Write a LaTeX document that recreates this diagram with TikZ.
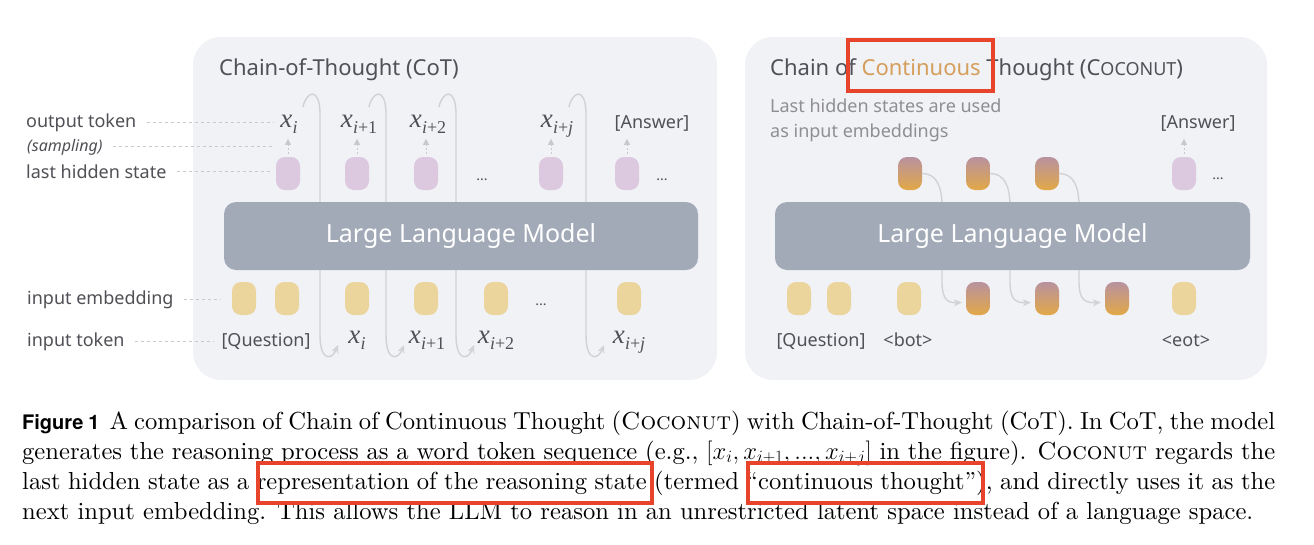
\RequirePackage{fix-cm}
\documentclass[tikz,border=0pt]{standalone}
\usepackage{fontspec}
\newfontfamily\dsans{Noto Sans}
\newfontfamily\capsans{TeX Gyre Heros}
\newfontfamily\tokserif{Liberation Serif}
\newfontfamily\cmten{lmroman10-regular.otf}[ItalicFont=lmroman10-italic.otf, BoldFont=lmroman10-bold.otf, SmallCapsFont=lmromancaps10-regular.otf]
\newcommand\tk[1]{{\itshape x}\kern0.3pt\raisebox{-6pt}{\fontsize{18}{19}\selectfont #1}}
\usetikzlibrary{arrows.meta}
\definecolor{panelbg}{HTML}{F1F2F6}
\definecolor{llmcol}{HTML}{A2AAB8}
\definecolor{hidcol}{HTML}{DCC8DF}
\definecolor{embcol}{HTML}{EBD59D}
\definecolor{gtop}{HTML}{B8929F}
\definecolor{gbot}{HTML}{E2A847}
\definecolor{conncol}{HTML}{D2D2D5}
\definecolor{leadcol}{HTML}{C9C9CC}
\definecolor{lblcol}{HTML}{505056}
\definecolor{subcol}{HTML}{8F8F93}
\definecolor{orng}{HTML}{D59E5B}
\definecolor{redbox}{HTML}{E8432B}
\begin{document}
\begin{tikzpicture}[x=1pt,y=-1pt,
  panelbox/.style={fill=panelbg, rounded corners=28pt},
  pill/.style={rounded corners=9pt, minimum width=24pt, minimum height=33pt, inner sep=0pt, draw=none},
  hidpill/.style={pill, fill=hidcol},
  embpill/.style={pill, fill=embcol},
  contpill/.style={pill, top color=gtop, bottom color=gbot},
  lbltext/.style={font=\dsans\fontsize{18}{20}\selectfont, text=lblcol, inner sep=0pt},
  smalllbl/.style={font=\dsans\itshape\fontsize{16}{18}\selectfont, text=lblcol, inner sep=0pt},
  titletext/.style={font=\dsans\fontsize{22}{24}\selectfont, text=lblcol, inner sep=0pt, anchor=base west},
  subtext/.style={font=\dsans\fontsize{18}{20}\selectfont, text=subcol, inner sep=0pt, anchor=base west},
  mtok/.style={font=\tokserif\fontsize{27}{28}\selectfont, text=lblcol, inner sep=0pt, anchor=base},
  tok/.style={lbltext, anchor=base},
  dotsn/.style={font=\dsans\fontsize{14}{16}\selectfont, text=lblcol, inner sep=0pt, anchor=base},
  leadline/.style={draw=leadcol, line width=1pt, dash pattern=on 3pt off 3pt},
  uparr/.style={draw=leadcol, line width=1pt, dash pattern=on 2pt off 2pt, -{Triangle[length=6pt,width=6pt]}},
  cotloop/.style={draw=conncol, line width=1.4pt, -{Stealth[length=8pt,width=7pt]}},
  llmbox/.style={fill=llmcol, rounded corners=12pt, text=white, font=\dsans\fontsize{25}{28}\selectfont, minimum height=68pt, inner sep=0pt},
  hlbox/.style={draw=redbox, line width=4pt},
  capline/.style={font=\cmten\fontsize{24.6}{30}\selectfont, text=black, inner sep=0pt, anchor=base west}
]
\useasboundingbox[fill=white] (0,0) rectangle (1314,544);

% ---------- panels ----------
\path[panelbox] (193,37) rectangle (717,380);
\path[panelbox] (745,37) rectangle (1267,380);

% ---------- left panel: CoT ----------
\node[titletext] (lt) at (219,75) {Chain-of-Thought (CoT)};

% hidden states
\node[hidpill] (hp1) at (288,173.5) {};
\node[hidpill] (hp2) at (357,173.5) {};
\node[hidpill] (hp3) at (426,173.5) {};
\node[hidpill] (hp4) at (551,173.5) {};
\node[hidpill] (hp5) at (627,173.5) {};
\node[dotsn] (hd1) at (482,180) {...};
\node[dotsn] (hd2) at (662,180) {...};

% output tokens
\node[mtok] (ox1) at (289,127) {\tk{\textit{i}}};
\node[mtok] (ox2) at (359,127) {\tk{\textit{i}+1}};
\node[mtok] (ox3) at (428,127) {\tk{\textit{i}+2}};
\node[mtok] (ox4) at (557,127) {\tk{\textit{i}+\textit{j}}};
\node[tok] (oans) at (652,128) {[Answer]};

\foreach \n in {1,...,5}{
  \draw[uparr] ([yshift=3pt]hp\n.north) -- ++(0,-15);
}

% input embeddings
\node[embpill] (ie1) at (244,298.5) {};
\node[embpill] (ie2) at (287,298.5) {};
\node[embpill] (ie3) at (357,298.5) {};
\node[embpill] (ie4) at (426,298.5) {};
\node[embpill] (ie5) at (496,298.5) {};
\node[embpill] (ie6) at (629,298.5) {};
\node[dotsn] (id1) at (541,305) {...};

% input tokens
\node[tok] (qL) at (266,346) {[Question]};
\node[mtok] (ix1) at (357,343) {\tk{\textit{i}}};
\node[mtok] (ix2) at (427,343) {\tk{\textit{i}+1}};
\node[mtok] (ix3) at (496,343) {\tk{\textit{i}+2}};
\node[mtok] (ix4) at (629,343) {\tk{\textit{i}+\textit{j}}};

% row labels
\node[lbltext, anchor=base west] (lo) at (26,127) {output token};
\node[smalllbl, anchor=base west] (ls) at (27,151) {(sampling)};
\node[lbltext, anchor=base west] (ll) at (26,178) {last hidden state};
\node[lbltext, anchor=base west] (le) at (27,304) {input embedding};
\node[lbltext, anchor=base west] (li) at (27,346) {input token};

\draw[leadline] ([xshift=10pt]lo.east) -- ([xshift=-7pt]lo.east -| ox1.west);
\draw[leadline] ([xshift=10pt]ls.east) -- ([xshift=-7pt]ls.east -| ox1.west);
\draw[leadline] ([xshift=10pt]ll.east) -- ([xshift=-6pt]ll.east -| hp1.west);
\draw[leadline] ([xshift=10pt]le.east) -- ([xshift=-12pt]le.east -| ie1.west);
\draw[leadline] ([xshift=10pt]li.east) -- ([xshift=-8pt]li.east -| qL.west);

% loops: output token -> next input token
\foreach \i/\x in {1/320,2/386,3/456,4/586}{
  \coordinate (ls\i) at (\x-17,107);
  \coordinate (le\i) at (\x+18,345);
  \draw[cotloop] (ls\i) .. controls +(3,-15) and (\x-1,86) .. (\x,112) -- (\x,335)
     .. controls (\x,362) and (\x+12,360) .. (le\i);
}

\node[llmbox, minimum width=474pt] (llmL) at (461,236) {Large Language Model};

% ---------- right panel: Coconut ----------
\node[titletext] (rt) at (770,75) {Chain of \textcolor{orng}{Continuous} Thought (C{\fontsize{18}{20}\selectfont OCONUT})};
\node[subtext] (rs1) at (770,112) {Last hidden states are used};
\node[subtext] (rs2) at (770,137) {as input embeddings};

\node[contpill] (h1) at (910,173.5) {};
\node[contpill] (h2) at (978,173.5) {};
\node[contpill] (h3) at (1047,173.5) {};
\node[hidpill] (h4) at (1184,173.5) {};
\node[dotsn] (rd1) at (1218,179) {...};
\node[tok] (rans) at (1198,128) {[Answer]};
\draw[uparr] ([yshift=3pt]h4.north) -- ++(0,-15);

\node[embpill] (e1) at (799,298.5) {};
\node[embpill] (e2) at (839,298.5) {};
\node[embpill] (e3) at (909,298.5) {};
\node[contpill] (e4) at (978,298.5) {};
\node[contpill] (e5) at (1047,298.5) {};
\node[contpill] (e6) at (1117,298.5) {};
\node[embpill] (e7) at (1184,298.5) {};

\node[tok] (rq) at (821,346) {[Question]};
\node[tok] (rbot) at (908,346) {<bot>};
\node[tok] (reot) at (1186,346) {<eot>};

\draw[cotloop] (h1.east) .. controls +(14,0) and (942,186) .. (942,206) -- (942,282)
   .. controls (942,300) and (948,303) .. ([xshift=-4pt,yshift=-4pt]e4.west);
\draw[cotloop] (h2.east) .. controls +(14,0) and (1010,186) .. (1010,206) -- (1010,282)
   .. controls (1010,300) and (1016,303) .. ([xshift=-4pt,yshift=-4pt]e5.west);
\draw[cotloop] (h3.east) .. controls +(14,0) and (1079,186) .. (1079,206) -- (1079,282)
   .. controls (1079,300) and (1085,303) .. ([xshift=-4pt,yshift=-4pt]e6.west);

\node[llmbox, minimum width=475pt] (llmR) at (1012.5,236) {Large Language Model};

\draw[hlbox] (848,40) rectangle (993,91);

% ---------- caption ----------
\node[capline] (c1) at (22,429) {\makebox[1253pt][s]{{\capsans\bfseries\fontsize{20}{24}\selectfont Figure\hspace{5pt}1}\hspace{10pt}A comparison of Chain of Continuous Thought (\textsc{Coconut}) with Chain-of-Thought (CoT). In CoT, the model}};
\node[capline] (c2) at (22,459) {\makebox[1253pt][s]{generates the reasoning process as a word token sequence (e.g., $[x_i, x_{i+1}, ..., x_{i+j}]$ in the figure). \textsc{Coconut} regards the}};
\node[capline] (c3) at (22,489) {\makebox[1253pt][s]{last hidden state as a representation of the reasoning state (termed “continuous thought”), and directly uses it as the}};
\node[capline] (c4) at (22,519) {next input embedding. This allows the LLM to reason in an unrestricted latent space instead of a language space.};

\draw[hlbox] (258,463) rectangle (652,503);
\draw[hlbox] (748,463) rectangle (983,503);
\end{tikzpicture}
\end{document}
